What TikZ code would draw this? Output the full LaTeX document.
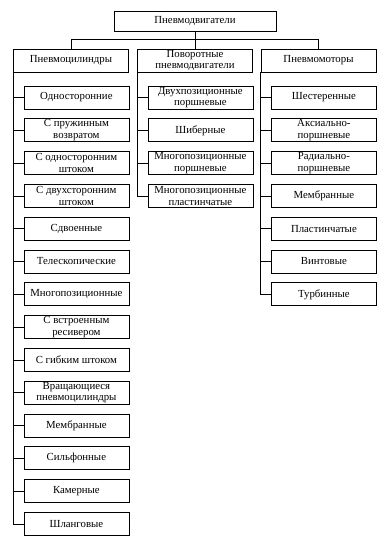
\documentclass[tikz,border=0pt]{standalone}
\usepackage{fontspec}
\setmainfont{Liberation Serif}
\begin{document}
\begin{tikzpicture}[x=1pt,y=-1pt,
  box/.style={draw, line width=0.8pt, align=center, inner sep=1pt,
    font=\fontsize{10.8}{11.5}\selectfont, minimum height=23pt},
  hdr/.style={box, minimum width=115pt},
  child/.style={box, minimum width=105pt, anchor=west},
  conn/.style={line width=0.8pt}]
\useasboundingbox (0,0) rectangle (385,541);
\fill[white] (0,0) rectangle (385,541);
\coordinate (bus) at (0,39);
\node[box, minimum width=162pt, minimum height=20pt] (top) at (195,21) {Пневмодвигатели};
\node[hdr] (h1) at (71,60.5) {Пневмоцилиндры};
\node[hdr] (h2) at (195,60.5) {Поворотные\\пневмодвигатели};
\node[hdr] (h3) at (318.5,60.5) {Пневмомоторы};
% left column
\node[child] (l1) at (23.5,97.5) {Односторонние};
\node[child] (l2) at (23.5,130.3) {С пружинным\\возвратом};
\node[child] (l3) at (23.5,163.1) {С односторонним\\штоком};
\node[child] (l4) at (23.5,195.9) {С двухсторонним\\штоком};
\node[child] (l5) at (23.5,228.7) {Сдвоенные};
\node[child] (l6) at (23.5,261.5) {Телескопические};
\node[child] (l7) at (23.5,294.3) {Многопозиционные};
\node[child] (l8) at (23.5,327.1) {С встроенным\\ресивером};
\node[child] (l9) at (23.5,359.9) {С гибким штоком};
\node[child] (l10) at (23.5,392.7) {Вращающиеся\\пневмоцилиндры};
\node[child] (l11) at (23.5,425.5) {Мембранные};
\node[child] (l12) at (23.5,458.3) {Сильфонные};
\node[child] (l13) at (23.5,491.1) {Камерные};
\node[child] (l14) at (23.5,523.9) {Шланговые};
% middle column
\node[child] (m1) at (147.5,97.5) {Двухпозиционные\\поршневые};
\node[child] (m2) at (147.5,130.3) {Шиберные};
\node[child] (m3) at (147.5,163.1) {Многопозиционные\\поршневые};
\node[child] (m4) at (147.5,195.9) {Многопозиционные\\пластинчатые};
% right column
\node[child] (r1) at (271,97.5) {Шестеренные};
\node[child] (r2) at (271,130.3) {Аксиально-\\поршневые};
\node[child] (r3) at (271,163.1) {Радиально-\\поршневые};
\node[child] (r4) at (271,195.9) {Мембранные};
\node[child] (r5) at (271,228.7) {Пластинчатые};
\node[child] (r6) at (271,261.5) {Винтовые};
\node[child] (r7) at (271,294.3) {Турбинные};
% bus
\draw[conn] (top.south) -- (top.south |- bus);
\draw[conn] (h1.north) -- (h1.north |- bus) -- (h3.north |- bus) -- (h3.north);
\draw[conn] (h2.north |- bus) -- (h2.north);
% spines
\draw[conn] (h1.south west) |- (l14.west);
\foreach \n in {l1,l2,l3,l4,l5,l6,l7,l8,l9,l10,l11,l12,l13}
  \draw[conn] (\n.west) -- (\n.west -| h1.south west);
\draw[conn] (h2.south west) |- (m4.west);
\foreach \n in {m1,m2,m3}
  \draw[conn] (\n.west) -- (\n.west -| h2.south west);
\draw[conn] (h3.south west) |- (r7.west);
\foreach \n in {r1,r2,r3,r4,r5,r6}
  \draw[conn] (\n.west) -- (\n.west -| h3.south west);
\end{tikzpicture}
\end{document}
